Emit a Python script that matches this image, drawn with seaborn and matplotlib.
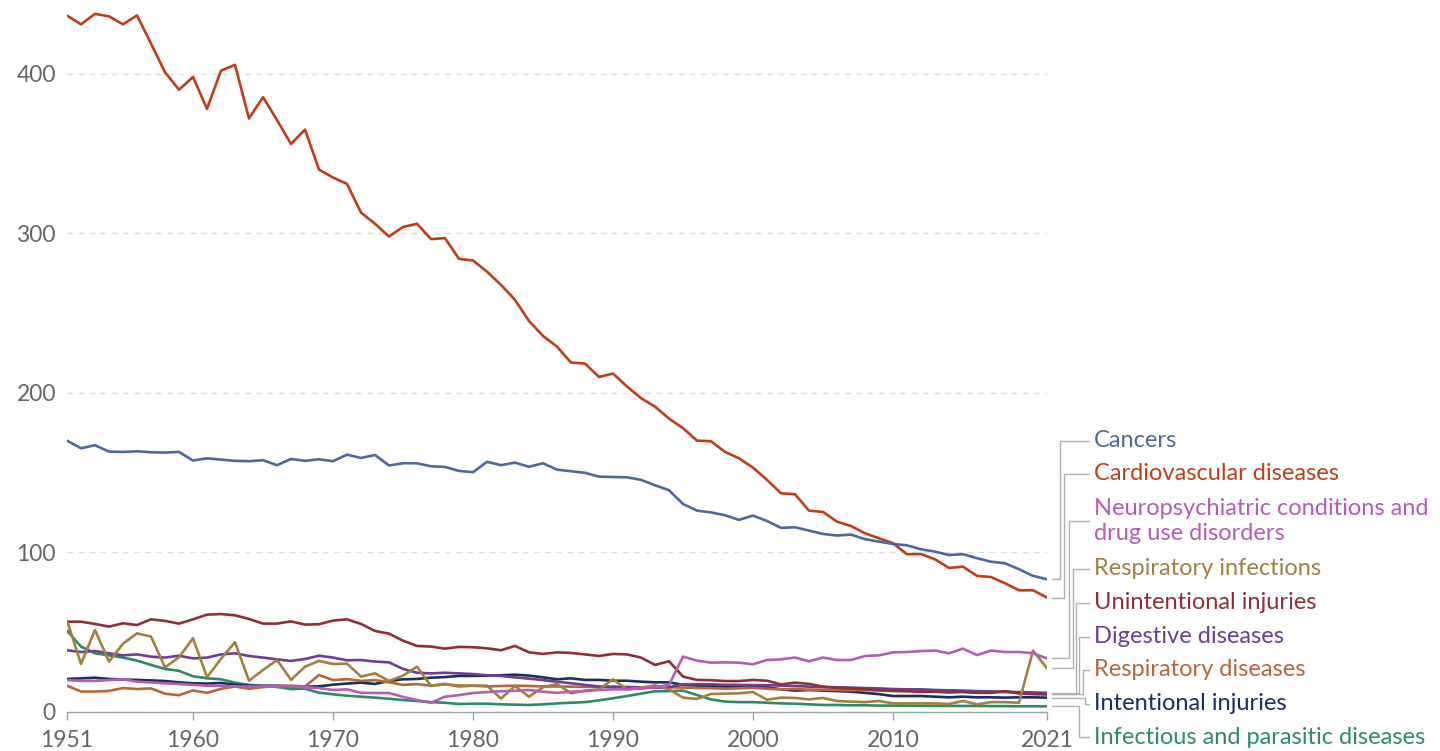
import pandas as pd
import matplotlib.pyplot as plt
import matplotlib.transforms as mtransforms
import seaborn as sns

# years on the x axis
years = list(range(1951, 2022))

# death rates per 100,000
cancers = [170.1, 165.3, 167.2, 163.2, 163.0, 163.4, 162.8, 162.6, 163.0, 157.6,
           159.0, 158.2, 157.4, 157.2, 157.8, 154.7, 158.6, 157.4, 158.4, 157.2,
           161.3, 159.2, 161.1, 154.5, 155.9, 155.9, 154.0, 153.6, 151.1, 150.3,
           156.8, 154.7, 156.3, 153.7, 155.9, 151.9, 150.9, 149.9, 147.5, 147.3,
           147.1, 145.5, 142.1, 139.0, 130.4, 126.2, 125.1, 123.3, 120.4, 123.1,
           119.7, 115.4, 115.8, 113.7, 111.6, 110.6, 111.2, 108.3, 106.8, 105.3,
           104.5, 102.0, 100.5, 98.4, 98.9, 96.4, 94.2, 93.2, 89.5, 85.3, 83.2]
cardio = [436.5, 431.0, 437.6, 436.0, 431.0, 436.6, 419.0, 401.0, 390.0, 398.0,
          378.0, 402.0, 405.6, 372.0, 385.4, 371.0, 356.0, 365.0, 340.0, 335.0,
          331.0, 313.0, 306.0, 298.0, 304.0, 306.0, 296.4, 297.0, 284.0, 283.0,
          276.0, 267.7, 258.3, 245.1, 235.7, 229.0, 219.0, 218.4, 210.0, 212.1,
          204.0, 196.7, 191.4, 183.9, 177.9, 170.1, 169.7, 163.0, 159.0, 153.2,
          145.5, 137.1, 136.5, 126.2, 125.4, 119.3, 116.6, 112.0, 108.9, 105.8,
          98.9, 99.0, 95.7, 90.3, 91.1, 85.3, 84.6, 80.7, 76.3, 76.3, 71.7]
neuro = [20.0, 19.5, 19.5, 20.0, 20.5, 19.0, 18.5, 18.0, 17.5, 17.0,
         16.5, 16.5, 16.0, 16.0, 16.0, 16.0, 16.0, 15.5, 15.0, 13.8,
         14.2, 12.0, 11.9, 11.9, 9.5, 7.5, 5.8, 9.6, 10.6, 11.9,
         12.5, 13.0, 13.3, 13.8, 12.7, 12.0, 12.7, 13.1, 13.8, 14.2,
         14.2, 14.6, 15.5, 17.0, 34.7, 32.2, 30.9, 31.1, 30.9, 29.9,
         32.6, 33.0, 34.1, 31.8, 34.1, 32.6, 32.6, 35.1, 35.5, 37.4,
         37.6, 38.2, 38.5, 36.8, 39.7, 35.7, 38.5, 37.6, 37.6, 36.8, 33.6]
resp_inf = [57.3, 30.1, 51.4, 31.6, 42.8, 49.3, 47.3, 28.0, 34.3, 46.2,
            21.8, 33.4, 43.7, 19.6, 26.3, 32.6, 20.1, 28.4, 32.0, 30.1,
            30.3, 22.2, 24.2, 19.4, 22.8, 28.4, 16.3, 17.3, 16.7, 16.5,
            16.5, 8.4, 16.3, 9.6, 15.5, 17.6, 11.7, 13.4, 14.2, 20.5,
            14.2, 15.3, 16.7, 14.2, 9.0, 8.2, 11.3, 11.5, 11.7, 12.5,
            7.7, 9.0, 8.8, 7.9, 8.8, 6.9, 6.5, 6.2, 6.9, 5.4,
            5.4, 5.4, 5.4, 5.0, 6.9, 4.8, 6.2, 6.2, 5.8, 38.5, 27.4]
unintentional = [56.6, 56.6, 55.2, 53.5, 55.6, 54.5, 58.1, 57.1, 55.4, 58.1,
                 61.0, 61.4, 60.6, 58.3, 55.4, 55.4, 56.8, 54.8, 55.0, 57.3,
                 58.1, 55.2, 50.8, 49.1, 44.7, 41.4, 41.0, 39.7, 40.8, 40.6,
                 39.9, 38.7, 41.4, 37.4, 36.4, 37.4, 37.0, 36.1, 35.1, 36.4,
                 36.1, 34.1, 29.5, 31.8, 22.2, 20.1, 19.9, 19.4, 19.4, 20.1,
                 19.6, 17.3, 18.4, 17.6, 15.9, 15.1, 14.8, 14.2, 13.8, 13.4,
                 13.1, 12.7, 12.7, 12.3, 12.5, 12.0, 12.0, 13.1, 11.6, 11.2, 11.0]
digestive = [38.7, 37.6, 38.2, 36.8, 35.5, 36.1, 34.7, 34.1, 35.3, 33.6,
             34.1, 36.1, 36.8, 35.1, 34.1, 33.0, 32.0, 33.2, 35.3, 34.1,
             32.4, 32.6, 31.6, 31.1, 27.0, 24.6, 24.2, 24.6, 24.2, 23.8,
             23.0, 22.6, 21.7, 20.9, 20.0, 19.0, 18.0, 17.0, 16.0, 15.5,
             15.5, 15.5, 15.3, 15.5, 17.4, 17.4, 17.4, 17.0, 17.0, 16.8,
             16.8, 16.5, 16.3, 15.9, 15.7, 15.5, 15.3, 15.0, 14.8, 14.4,
             14.2, 14.2, 13.8, 13.6, 13.4, 13.1, 12.9, 12.7, 12.5, 12.3, 12.0]
resp_dis = [16.5, 12.8, 12.8, 13.2, 15.0, 14.4, 14.8, 11.5, 10.5, 13.5,
            12.0, 14.5, 16.0, 14.6, 15.6, 16.3, 16.5, 16.0, 23.2, 20.0,
            20.6, 19.5, 20.0, 18.6, 17.0, 17.5, 16.5, 17.6, 16.0, 16.5,
            16.0, 16.3, 16.5, 16.3, 16.0, 16.0, 15.9, 15.7, 15.9, 16.0,
            15.7, 15.5, 15.3, 15.5, 15.3, 15.1, 14.9, 14.6, 14.9, 15.1,
            14.6, 14.2, 14.4, 14.0, 14.0, 13.8, 13.6, 13.8, 13.4, 13.1,
            13.1, 13.0, 12.7, 12.5, 12.9, 12.3, 12.5, 12.5, 12.0, 11.7, 11.5]
intentional = [20.7, 21.1, 21.5, 20.7, 20.3, 20.1, 19.8, 19.4, 18.6, 18.0,
               17.8, 18.2, 17.1, 16.5, 16.5, 16.5, 16.1, 15.9, 16.1, 17.1,
               17.8, 18.4, 17.6, 19.4, 20.5, 20.7, 21.5, 21.9, 22.6, 22.6,
               22.8, 23.0, 23.4, 22.8, 21.7, 20.5, 21.1, 20.1, 20.1, 19.6,
               19.6, 19.0, 18.6, 18.6, 17.0, 16.5, 16.3, 15.9, 15.5, 15.9,
               15.5, 14.2, 13.4, 13.8, 13.4, 13.1, 12.7, 12.0, 11.2, 10.0,
               10.0, 10.0, 9.6, 9.2, 9.6, 9.2, 9.2, 9.0, 9.2, 9.2, 9.0]
infectious = [51.0, 41.0, 36.8, 35.5, 34.1, 32.2, 29.5, 27.0, 25.8, 22.4,
              21.1, 20.5, 18.4, 17.0, 16.1, 15.7, 14.4, 14.6, 12.1, 11.1,
              10.2, 9.6, 9.0, 8.3, 7.5, 6.9, 6.2, 5.8, 5.0, 5.2,
              5.2, 4.8, 4.6, 4.4, 4.8, 5.4, 5.8, 6.2, 7.3, 8.6,
              10.0, 11.5, 13.0, 13.1, 13.4, 10.6, 7.9, 6.5, 6.2, 6.2,
              5.8, 5.4, 5.2, 4.8, 4.4, 4.4, 4.2, 4.2, 4.0, 4.0,
              4.0, 3.9, 3.9, 3.8, 3.8, 3.8, 3.7, 3.7, 3.6, 3.6, 3.6]

names = ["Cancers", "Cardiovascular diseases",
         "Neuropsychiatric conditions and\ndrug use disorders",
         "Respiratory infections", "Unintentional injuries", "Digestive diseases",
         "Respiratory diseases", "Intentional injuries",
         "Infectious and parasitic diseases"]
series = [cancers, cardio, neuro, resp_inf, unintentional, digestive,
          resp_dis, intentional, infectious]
colors = ["#4C6A9C", "#BF3E19", "#B35EB4", "#A2803E", "#8F2F3A",
          "#6D3E91", "#B5673A", "#1B2E5E", "#2D8B67"]

rows = []
for name, vals in zip(names, series):
    for yr, v in zip(years, vals):
        rows.append({"Year": yr, "Cause": name, "Rate": v})
df = pd.DataFrame(rows)

sns.set_style("white")
plt.rcParams['font.family'] = ['Lato', 'DejaVu Sans']

fig = plt.figure(figsize=(14.4, 7.51), dpi=100)
ax = fig.add_axes([67 / 1440, 1 - 712 / 751, 980 / 1440, 710 / 751])

# draw the low lines first so the big ones sit on top
draw_order = names[::-1]
sns.lineplot(data=df, x="Year", y="Rate", hue="Cause", hue_order=draw_order,
             palette=dict(zip(names, colors)), linewidth=1.9, legend=False, ax=ax)

ax.set_xlim(1951, 2021)
ax.set_ylim(0, 445)
ax.set_xlabel("")
ax.set_ylabel("")

for v in [100, 200, 300, 400]:
    ax.axhline(v, color="#dddddd", lw=1, ls=(0, (4, 4)), zorder=0)

for s in ["top", "right", "left"]:
    ax.spines[s].set_visible(False)
ax.spines["bottom"].set_color("#a0a0a0")
ax.spines["bottom"].set_linewidth(1)

ax.set_xticks([1951, 1960, 1970, 1980, 1990, 2000, 2010, 2021])
ax.set_yticks([0, 100, 200, 300, 400])
ax.tick_params(axis="x", length=6, width=1, color="#a0a0a0", labelcolor="#666666",
               labelsize=16.5, pad=7, direction="out", bottom=True)
ax.tick_params(axis="y", length=0, labelcolor="#666666", labelsize=16.5, pad=8)

# right-hand labels with elbow connectors
trans = mtransforms.blended_transform_factory(ax.transAxes, ax.transData)


def fx(px):
    return (px - 67) / 980


def fy(py):
    return (712 - py) / 1.595


label_px = [441, 474, 521, 569, 603, 637, 670, 704, 737]
elbow_px = [1060, 1064, 1069, 1073, 1076, 1079, 1083, 1085, 1079]
for name, vals, col, ly, ex in zip(names, series, colors, label_px, elbow_px):
    yend = vals[-1]
    ax.plot([fx(1052), fx(ex), fx(ex), fx(1089)],
            [yend, yend, fy(ly), fy(ly)], transform=trans, color="#b0b0b0",
            lw=1, clip_on=False)
    ax.text(fx(1094), fy(ly), name, transform=trans, color=col, fontsize=17,
            va="center", ha="left", linespacing=1.22)

fig.savefig("out.png", dpi=100)
